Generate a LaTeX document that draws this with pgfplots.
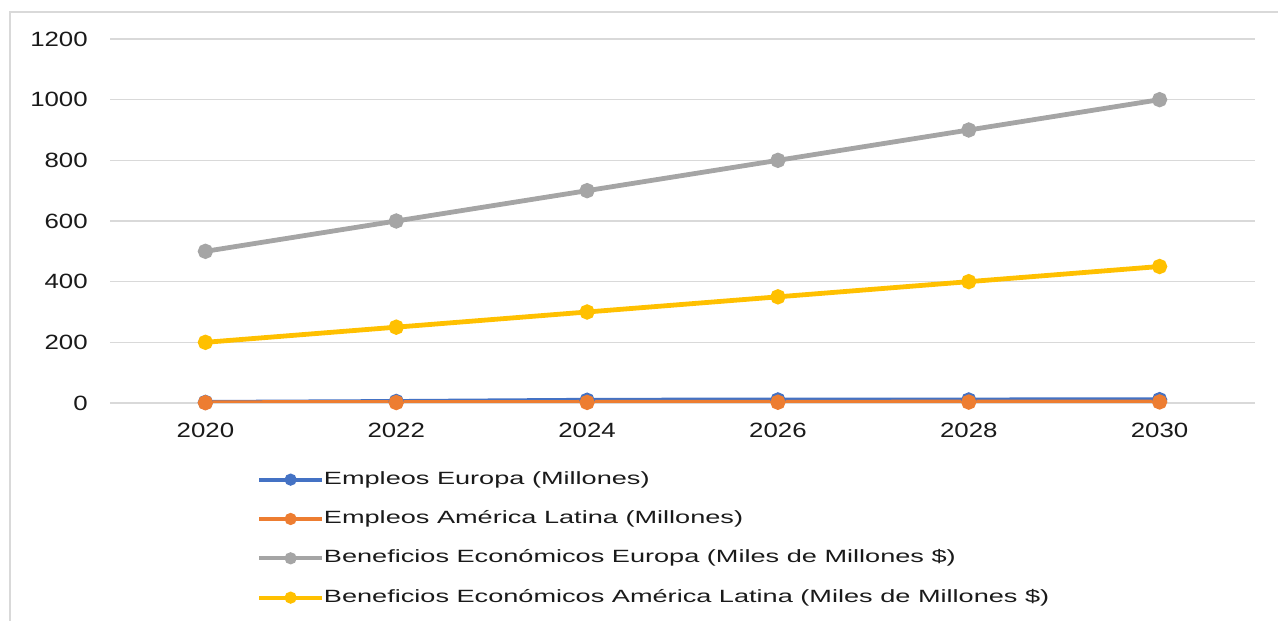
\documentclass[border=0pt]{standalone}
\usepackage{pgfplots}
\pgfplotsset{compat=1.18}
\usepackage{fontspec}
\setmainfont{Liberation Sans}
\newfontfamily\tickfont[FakeStretch=1.25]{Liberation Sans}
\newfontfamily\legfont[FakeStretch=1.53]{Liberation Sans}
\definecolor{cBlue}{HTML}{4472C4}
\definecolor{cOrange}{HTML}{ED7D31}
\definecolor{cGray}{HTML}{A5A5A5}
\definecolor{cYellow}{HTML}{FFC000}
\definecolor{cGrid}{HTML}{D9D9D9}
\definecolor{cText}{HTML}{1A1A1A}
\begin{document}
\begin{tikzpicture}
\useasboundingbox (0,0) rectangle (958.5pt,465.75pt);
\draw[cGrid, line width=1.5pt] (7.5pt,0pt) -- (7.5pt,456.75pt) -- (960pt,456.75pt);
\begin{axis}[
  at={(82.5pt,163.5pt)}, anchor=south west,
  scale only axis, width=858.75pt, height=273pt,
  xmin=2019, xmax=2031, ymin=0, ymax=1200,
  xtick={2020,2022,2024,2026,2028,2030},
  ytick={0,200,400,600,800,1000,1200},
  axis line style={draw=none},
  major tick length=0pt,
  ymajorgrids, grid style={cGrid, line width=1.2pt},
  /pgf/number format/assume math mode=true,
  /pgf/number format/1000 sep={},
  tick label style={font=\tickfont\fontsize{15.5}{18}\selectfont, text=cText, inner sep=0pt},
  yticklabel style={anchor=east, xshift=-16.5pt},
  xticklabel style={anchor=north, yshift=-15pt},
  every axis plot/.append style={line width=3.6pt, mark=*, mark size=3.9pt},
  legend style={
    at={(axis description cs:0.1284,-0.186)}, anchor=north west,
    draw=none, fill=none, inner sep=0pt,
    font=\legfont\fontsize{13.3}{16}\selectfont, text=cText,
    nodes={inner sep=0pt, text height=10pt, text depth=3pt},
    row sep=16.5pt, column sep=0pt,
    legend cell align=left,
  },
  legend image code/.code={
    \draw[#1, line width=3pt, mark size=3pt, mark repeat=2, mark phase=2]
      plot coordinates {(0pt,0pt) (23.5pt,0pt) (47pt,0pt)};
  },
]
\addplot[color=cBlue] coordinates {(2020,2) (2022,5) (2024,9) (2026,10) (2028,10) (2030,11)};
\addlegendentry{Empleos Europa (Millones)}
\addplot[color=cOrange] coordinates {(2020,1) (2022,1.5) (2024,2) (2026,2.5) (2028,3) (2030,3.5)};
\addlegendentry{Empleos América Latina (Millones)}
\addplot[color=cGray] coordinates {(2020,500) (2022,600) (2024,700) (2026,800) (2028,900) (2030,1000)};
\addlegendentry{Beneficios Económicos Europa (Miles de Millones \$)}
\addplot[color=cYellow] coordinates {(2020,200) (2022,250) (2024,300) (2026,350) (2028,400) (2030,450)};
\addlegendentry{Beneficios Económicos América Latina (Miles de Millones \$)}
\end{axis}
\end{tikzpicture}
\end{document}
